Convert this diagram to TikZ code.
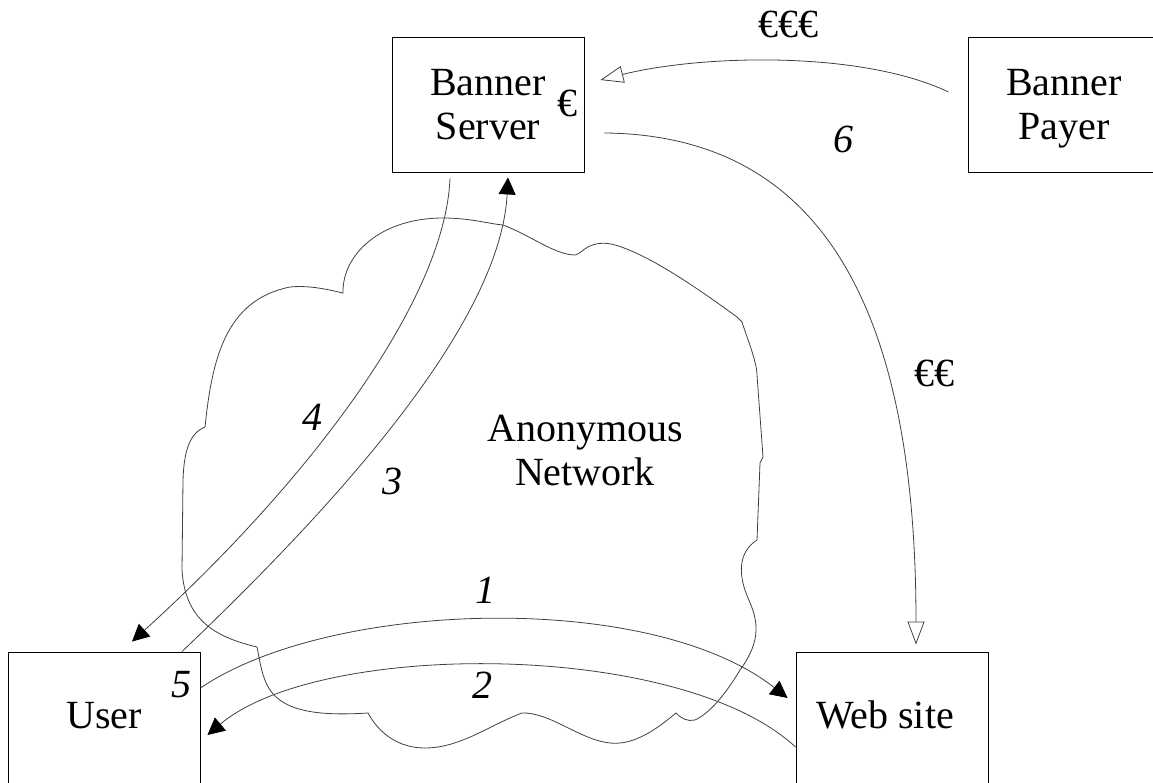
\documentclass[tikz,border=0pt]{standalone}
\usepackage{fontspec}
\setmainfont{Liberation Serif}
\usetikzlibrary{arrows.meta,calc}
\begin{document}
\begin{tikzpicture}[x=1pt,y=-1pt,
  font=\fontsize{40}{44}\selectfont,
  box/.style={draw=black, line width=0.9pt, minimum width=192pt, minimum height=135pt, inner sep=0pt, align=center},
  conn/.style={draw=black!75, line width=0.8pt},
  solidtip/.style={-{Triangle[length=17pt,width=17pt,black]}},
  opentip/.style={-{Triangle[open,length=23pt,width=17pt]}},
  num/.style={font=\fontsize{40}{44}\selectfont\itshape, anchor=base, inner sep=0pt},
  txt/.style={anchor=base, inner sep=0pt},
  cloudline/.style={draw=black!75, line width=0.8pt}]
\useasboundingbox (0,0) rectangle (1153,783);
\clip (0,0) rectangle (1153,783);

% cloud (anonymous network)
\draw[cloudline] (343,293) .. controls (342,255) and (380,218) .. (443,218)
  .. controls (470,218) and (490,224) .. (503,225)
  .. controls (530,235) and (555,255) .. (575,255)
  .. controls (580,254) and (582,250) .. (588,247)
  .. controls (595,243) and (605,242) .. (615,245)
  .. controls (650,255) and (700,290) .. (737,317) -- (742,322)
  .. controls (746,335) and (757,362) .. (757,375)
  -- (763,457) -- (760,463) -- (757,540)
  .. controls (738,552) and (738,575) .. (748,598)
  .. controls (758,620) and (762,640) .. (740,670)
  .. controls (728,690) and (712,712) .. (695,720)
  .. controls (688,722) and (680,718) .. (676,713)
  .. controls (650,735) and (630,745) .. (610,743)
  .. controls (580,740) and (550,712) .. (522,713)
  .. controls (490,725) and (460,748) .. (425,748)
  .. controls (400,748) and (380,735) .. (368,713)
  .. controls (320,716) and (285,712) .. (270,690)
  .. controls (262,678) and (260,662) .. (257,647)
  .. controls (215,637) and (185,620) .. (182,570)
  -- (183,480)
  .. controls (184,450) and (190,433) .. (205,427)
  .. controls (212,360) and (225,300) .. (290,287)
  .. controls (310,285) and (330,290) .. (343,293) -- cycle;

% boxes
\node[box] (bs) at (488,104.5) {Banner\\Server};
\node[box, text depth=0pt] (bp) at (1064,104.5) {Banner\\Payer};
\node[box, text height=26.5pt, text depth=9.5pt] (user) at (104,719.5) {User};
\node[box, text height=26.5pt, text depth=9.5pt] (web) at (892,719.5) {Web site\hspace*{14pt}};
\node[inner sep=0pt, align=center, text depth=0pt] (net) at (585,450) {Anonymous\\Network};

% connector end points
\coordinate (a4s) at ($(bs.south)+(-38,6)$);
\coordinate (a4e) at ($(user.north)+(28,-10)$);
\coordinate (a3s) at ($(user.north)+(78,0)$);
\coordinate (a3e) at ($(bs.south)+(20,5)$);
\coordinate (a1s) at ($(user.east)+(0,-31.5)$);
\coordinate (a1e) at ($(web.west)+(-8,-21.5)$);
\coordinate (a2s) at ($(web.west)+(0,27.5)$);
\coordinate (a2e) at ($(user.east)+(7,15.5)$);
\coordinate (pys) at ($(bp.west)+(-19,-12.5)$);
\coordinate (pye) at ($(bs.east)+(16,-24.5)$);
\coordinate (wss) at ($(bs.east)+(20,28.5)$);
\coordinate (wse) at ($(web.north)+(24,-7)$);

% connectors
\draw[conn, solidtip] (a4s) .. controls (445,300) and (310,480) .. (a4e);
\draw[conn, solidtip] (a3s) .. controls (320,520) and (500,330) .. (a3e);
\draw[conn, solidtip] (a1s) .. controls (330,600) and (650,590) .. (a1e);
\draw[conn, solidtip] (a2s) .. controls (680,640) and (320,640) .. (a2e);
\draw[conn, opentip] (pys) .. controls (860,50) and (700,55) .. (pye);
\draw[conn, opentip] (wss) .. controls (810,135) and (916,290) .. (wse);

% labels
\node[num] (l1) at (485,603) {1};
\node[num] (l2) at (482,698) {2};
\node[num] (l3) at (392,494) {3};
\node[num] (l4) at (312,430) {4};
\node[num] (l5) at (181,697) {5};
\node[num] (l6) at (843,153) {6};
\node[txt] (e1) at (567,117) {€};
\node[txt] (e3) at (788,38) {€€€};
\node[txt] (e2) at (934,386) {€€};
\end{tikzpicture}
\end{document}
